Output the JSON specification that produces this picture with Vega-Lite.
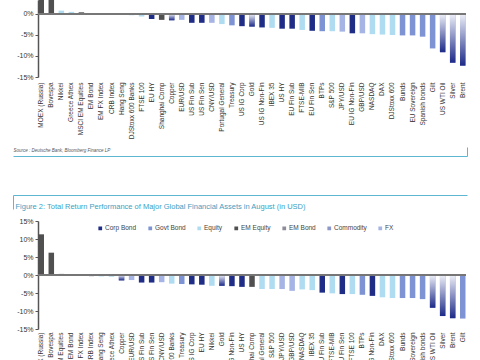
{
  "$schema": "https://vega.github.io/schema/vega-lite/v6.json",
  "padding": {"left": 12, "top": 0, "right": 4, "bottom": 4},
  "config": {"font": "Liberation Sans", "view": {"stroke": null}, "concat": {"spacing": 7}, "axis": {"grid": false}},
  "resolve": {"scale": {"color": "independent", "x": "independent", "y": "independent"}},
  "datasets": {
    "fig1": [
      {"n": "MOEX (Russia)", "c": "EM Equity", "v": 12},
      {"n": "Bovespa", "c": "EM Equity", "v": 8},
      {"n": "Nikkei", "c": "Equity", "v": 0.8},
      {"n": "Greece Athex", "c": "Equity", "v": 0.5},
      {"n": "MSCI EM Equities", "c": "EM Equity", "v": 0.4},
      {"n": "EM Bond", "c": "EM Bond", "v": 0.2},
      {"n": "EM FX Index", "c": "FX", "v": -0.1},
      {"n": "CRB Index", "c": "Commodity", "v": -0.15},
      {"n": "Hang Seng", "c": "Equity", "v": -0.2},
      {"n": "DJStoxx 600 Banks", "c": "Equity", "v": -0.3},
      {"n": "FTSE 100", "c": "Equity", "v": -0.6},
      {"n": "EU HY", "c": "Corp Bond", "v": -1.2},
      {"n": "Shanghai Comp", "c": "EM Equity", "v": -1.4},
      {"n": "Copper", "c": "Commodity", "v": -1.5},
      {"n": "EUR/USD", "c": "FX", "v": -1.4},
      {"n": "US Fin Sub", "c": "Corp Bond", "v": -2.1},
      {"n": "US Fin Sen", "c": "Corp Bond", "v": -2.1},
      {"n": "CNY/USD", "c": "FX", "v": -2.1},
      {"n": "Portugal General", "c": "Equity", "v": -2.4},
      {"n": "Treasury", "c": "Govt Bond", "v": -2.7},
      {"n": "US IG Corp", "c": "Corp Bond", "v": -2.9},
      {"n": "Gold", "c": "Commodity", "v": -3.0},
      {"n": "US IG Non-Fin", "c": "Corp Bond", "v": -3.2},
      {"n": "IBEX 35", "c": "Equity", "v": -3.3},
      {"n": "US HY", "c": "Corp Bond", "v": -3.5},
      {"n": "EU Fin Sub", "c": "Corp Bond", "v": -3.5},
      {"n": "FTSE-MIB", "c": "Equity", "v": -3.8},
      {"n": "EU Fin Sen", "c": "Corp Bond", "v": -4.0},
      {"n": "BTPs", "c": "Govt Bond", "v": -4.1},
      {"n": "S&P 500", "c": "Equity", "v": -4.1},
      {"n": "JPY/USD", "c": "FX", "v": -4.2},
      {"n": "EU IG Non-Fin", "c": "Corp Bond", "v": -4.6},
      {"n": "GBP/USD", "c": "FX", "v": -4.6},
      {"n": "NASDAQ", "c": "Equity", "v": -4.8},
      {"n": "DAX", "c": "Equity", "v": -4.9},
      {"n": "DJStoxx 600", "c": "Equity", "v": -5.0},
      {"n": "Bunds", "c": "Govt Bond", "v": -5.1},
      {"n": "EU Sovereign", "c": "Govt Bond", "v": -5.1},
      {"n": "Spanish bonds", "c": "Govt Bond", "v": -5.4},
      {"n": "Gilt", "c": "Govt Bond", "v": -8.2},
      {"n": "US WTI Oil", "c": "Commodity", "v": -9.1},
      {"n": "Silver", "c": "Commodity", "v": -11.6},
      {"n": "Brent", "c": "Commodity", "v": -12.3}
    ],
    "fig2": [
      {"n": "MOEX (Russia)", "c": "EM Equity", "v": 11.3},
      {"n": "Bovespa", "c": "EM Equity", "v": 6.2},
      {"n": "MSCI EM Equities", "c": "EM Equity", "v": 0.3},
      {"n": "EM Bond", "c": "EM Bond", "v": 0.15},
      {"n": "EM FX Index", "c": "FX", "v": -0.2},
      {"n": "CRB Index", "c": "Commodity", "v": -0.3},
      {"n": "Hang Seng", "c": "Equity", "v": -0.4},
      {"n": "Greece Athex", "c": "Equity", "v": -0.5},
      {"n": "Copper", "c": "Commodity", "v": -1.5},
      {"n": "EUR/USD", "c": "FX", "v": -1.4},
      {"n": "US Fin Sub", "c": "Corp Bond", "v": -2.1},
      {"n": "US Fin Sen", "c": "Corp Bond", "v": -2.1},
      {"n": "CNY/USD", "c": "FX", "v": -2.0},
      {"n": "DJStoxx 600 Banks", "c": "Equity", "v": -2.4},
      {"n": "Treasury", "c": "Govt Bond", "v": -2.5},
      {"n": "US IG Corp", "c": "Corp Bond", "v": -2.6},
      {"n": "EU HY", "c": "Corp Bond", "v": -2.7},
      {"n": "Nikkei", "c": "Equity", "v": -3.0},
      {"n": "Gold", "c": "Commodity", "v": -3.0},
      {"n": "US IG Non-Fin", "c": "Corp Bond", "v": -3.1},
      {"n": "US HY", "c": "Corp Bond", "v": -3.3},
      {"n": "Shanghai Comp", "c": "EM Equity", "v": -3.3},
      {"n": "Portugal General", "c": "Equity", "v": -3.9},
      {"n": "S&P 500", "c": "Equity", "v": -3.9},
      {"n": "JPY/USD", "c": "FX", "v": -3.9},
      {"n": "GBP/USD", "c": "FX", "v": -4.4},
      {"n": "NASDAQ", "c": "Equity", "v": -4.0},
      {"n": "IBEX 35", "c": "Equity", "v": -4.2},
      {"n": "EU Fin Sub", "c": "Corp Bond", "v": -4.9},
      {"n": "FTSE-MIB", "c": "Equity", "v": -5.1},
      {"n": "EU Fin Sen", "c": "Corp Bond", "v": -5.3},
      {"n": "FTSE 100", "c": "Equity", "v": -5.3},
      {"n": "BTPs", "c": "Govt Bond", "v": -5.5},
      {"n": "EU IG Non-Fin", "c": "Corp Bond", "v": -5.8},
      {"n": "DAX", "c": "Equity", "v": -6.2},
      {"n": "DJStoxx 600", "c": "Equity", "v": -6.4},
      {"n": "Bunds", "c": "Govt Bond", "v": -6.4},
      {"n": "EU Sovereign", "c": "Govt Bond", "v": -6.4},
      {"n": "Spanish bonds", "c": "Govt Bond", "v": -6.7},
      {"n": "US WTI Oil", "c": "Commodity", "v": -9.1},
      {"n": "Silver", "c": "Commodity", "v": -11.4},
      {"n": "Brent", "c": "Commodity", "v": -12.0},
      {"n": "Gilt", "c": "Govt Bond", "v": -12.1}
    ]
  },
  "vconcat": [
    {
      "width": 428,
      "height": 77,
      "data": {"name": "fig1"},
      "encoding": {
        "x": {"field": "n", "type": "nominal", "sort": null, "scale": {"paddingInner": 0.45, "paddingOuter": 0.05},
              "axis": {"title": null, "domain": false, "ticks": false, "tickSize": 0, "labelAngle": -90, "labelPadding": 5, "labelFontSize": 6.5, "labelColor": "#333"}},
        "y": {"field": "v", "type": "quantitative", "scale": {"domain": [-15, 3.33], "nice": false, "zero": false},
              "axis": {"title": null, "values": [-15, -10, -5, 0], "labelOverlap": false, "labelExpr": "datum.value + '%'", "labelFontSize": 7, "labelColor": "#333", "domainColor": "#555", "domainWidth": 1.5, "tickColor": "#555", "tickSize": 3, "labelPadding": 2, "minExtent": 25}}
      },
      "layer": [
        {
          "mark": {"type": "bar", "clip": true},
          "encoding": {
            "color": {"field": "c", "type": "nominal", "legend": null,
                      "scale": {"domain": ["Corp Bond", "Govt Bond", "Equity", "EM Equity", "EM Bond", "Commodity", "FX"],
                                "range": ["#1f2d86", "#7e93d3", "#afdcf1", "#505050", "#8e8e9a", "#8d98c8", "#a5b4e4"]}}
          }
        },
        {
          "transform": [{"filter": "datum.c === 'Commodity'"}],
          "mark": {"type": "bar", "clip": true, "color": {"gradient": "linear", "x1": 0, "y1": 0, "x2": 0, "y2": 1, "stops": [{"offset": 0, "color": "#eef0f8"}, {"offset": 1, "color": "#1c2a88"}]}}
        },
        {
          "mark": {"type": "rule", "color": "#777", "strokeWidth": 1},
          "encoding": {"x": {"value": 0}, "x2": {"value": "width"}, "y": {"datum": 0}}
        }
      ]
    },
    {
      "width": 454,
      "height": 39,
      "data": {"values": [{"p": 0}, {"p": 1}]},
      "resolve": {"scale": {"x": "independent"}, "axis": {"x": "independent"}},
      "layer": [
        {
          "mark": {"type": "point", "opacity": 0, "size": 1},
          "encoding": {
            "x": {"field": "p", "type": "quantitative", "scale": {"domain": [0, 1], "range": [-25, 429], "nice": false, "zero": false},
                  "axis": {"orient": "top", "values": [1], "labels": false, "ticks": true, "tickSize": 9, "tickColor": "#5db7d0", "domainColor": "#5db7d0", "grid": false,
                           "title": "Source : Deutsche Bank, Bloomberg Finance LP", "titleX": -25, "titleY": -4, "titleAlign": "left", "titleBaseline": "bottom", "titleFontSize": 4.5, "titleFontStyle": "italic", "titleFontWeight": "normal", "titleColor": "#555"}},
            "y": {"field": "p", "type": "quantitative", "axis": null, "scale": {"domain": [0, 1]}}
          }
        },
        {
          "mark": {"type": "point", "opacity": 0, "size": 1},
          "encoding": {
            "x": {"field": "p", "type": "quantitative", "scale": {"domain": [0, 1], "range": [-25, 429], "nice": false, "zero": false},
                  "axis": {"orient": "bottom", "values": [0], "labels": false, "ticks": true, "tickSize": 14, "tickColor": "#5db7d0", "domainColor": "#5db7d0", "grid": false,
                           "title": "Figure 2: Total Return Performance of Major Global Financial Assets in August (in USD)", "titleX": -23, "titleY": 11, "titleAlign": "left", "titleBaseline": "middle", "titleFontSize": 7.5, "titleFontWeight": "normal", "titleColor": "#3d9fc4"}},
            "y": {"field": "p", "type": "quantitative", "axis": null}
          }
        }
      ]
    },
    {
      "width": 428,
      "height": 108,
      "data": {"name": "fig2"},
      "encoding": {
        "x": {"field": "n", "type": "nominal", "sort": null, "scale": {"paddingInner": 0.45, "paddingOuter": 0.05},
              "axis": {"title": null, "domain": false, "ticks": false, "tickSize": 0, "labelAngle": -90, "labelPadding": 3, "labelFontSize": 6.5, "labelColor": "#333"}},
        "y": {"field": "v", "type": "quantitative", "scale": {"domain": [-15, 15], "nice": false},
              "axis": {"title": null, "values": [-15, -10, -5, 0, 5, 10, 15], "labelOverlap": false, "labelExpr": "datum.value + '%'", "labelFontSize": 7, "labelColor": "#333", "domainColor": "#555", "domainWidth": 1.5, "tickColor": "#555", "tickSize": 3, "labelPadding": 2, "minExtent": 25}}
      },
      "layer": [
        {
          "mark": {"type": "bar"},
          "encoding": {
            "color": {"field": "c", "type": "nominal",
                      "scale": {"domain": ["Corp Bond", "Govt Bond", "Equity", "EM Equity", "EM Bond", "Commodity", "FX"],
                                "range": ["#1f2d86", "#7e93d3", "#afdcf1", "#505050", "#8e8e9a", "#8d98c8", "#a5b4e4"]},
                      "legend": {"orient": "none", "legendX": 59, "legendY": 4, "direction": "horizontal", "title": null, "symbolType": "square", "symbolSize": 14, "symbolStrokeWidth": 0, "labelFontSize": 6.5, "labelColor": "#444", "columnPadding": 10, "labelOffset": 1.5}}
          }
        },
        {
          "transform": [{"filter": "datum.c === 'Commodity'"}],
          "mark": {"type": "bar", "color": {"gradient": "linear", "x1": 0, "y1": 0, "x2": 0, "y2": 1, "stops": [{"offset": 0, "color": "#eef0f8"}, {"offset": 1, "color": "#1c2a88"}]}}
        },
        {
          "mark": {"type": "rule", "color": "#777", "strokeWidth": 1},
          "encoding": {"x": {"value": 0}, "x2": {"value": "width"}, "y": {"datum": 0}}
        }
      ]
    }
  ]
}
